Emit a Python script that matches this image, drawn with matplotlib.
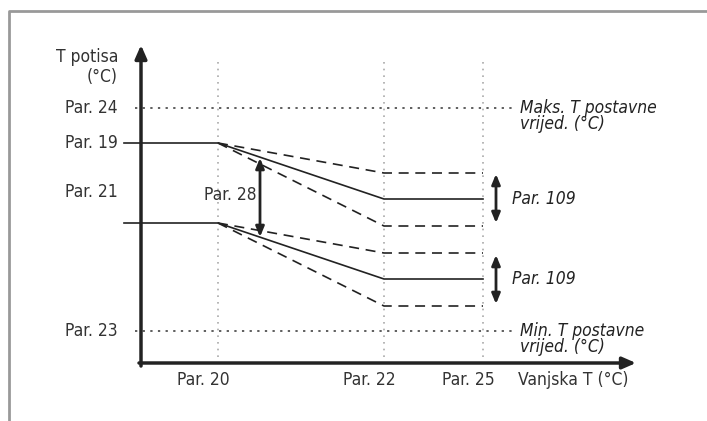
import matplotlib
matplotlib.use("Agg")
import matplotlib.pyplot as plt

plt.rcParams['font.family'] = ['DejaVu Sans']
plt.rcParams['font.stretch'] = 'condensed'

# schematic coordinates (image-like units, y grows downwards)
x_ticks = [218, 384, 483]
x_tick_labels = ['Par. 20', 'Par. 22', 'Par. 25']
y_levels = [108, 143, 192, 331]
y_level_labels = ['Par. 24', 'Par. 19', 'Par. 21', 'Par. 23']

curve_x = [124, 218, 384, 483]
upper_solid = [143, 143, 199, 199]
lower_solid = [223, 223, 279, 279]

band_x = [218, 384, 483]
upper_band_hi = [143, 173, 173]
upper_band_lo = [143, 226, 226]
lower_band_hi = [223, 253, 253]
lower_band_lo = [223, 306, 306]

par28 = (260, 158, 237)
par109 = [(496, 174, 223), (496, 255, 304)]

fig = plt.figure(figsize=(7.07, 4.21), dpi=100)
ax = fig.add_axes([0, 0, 1, 1])
ax.set_xlim(0, 707)
ax.set_ylim(421, 0)
ax.axis('off')

# frame
ax.plot([9, 9, 707], [421, 11, 11], color='#999999', lw=2, solid_capstyle='butt')

# reference grid lines
for x in x_ticks:
    ax.plot([x, x], [62, 363], color='#aaaaaa', lw=1.2, ls=(0, (1, 3)))
for y in (y_levels[0], y_levels[3]):
    ax.plot([135, 515], [y, y], color='#333333', lw=1.1, ls=(0, (1.5, 3.5)))

# curves
ax.plot(curve_x, upper_solid, color='#222222', lw=1.2)
ax.plot(curve_x, lower_solid, color='#222222', lw=1.2)
for ys in (upper_band_hi, upper_band_lo, lower_band_hi, lower_band_lo):
    ax.plot(band_x, ys, color='#222222', lw=1.2, ls=(0, (6, 4)))

# axes with arrows
ax.annotate('', xy=(141, 45), xytext=(141, 366),
            arrowprops=dict(arrowstyle='-|>,head_length=0.8,head_width=0.35',
                            color='#222222', lw=2.5, shrinkA=0, shrinkB=0))
ax.annotate('', xy=(636, 363), xytext=(139, 363),
            arrowprops=dict(arrowstyle='-|>,head_length=0.8,head_width=0.35',
                            color='#222222', lw=2.5, shrinkA=0, shrinkB=0))

# double arrows
arrow = dict(arrowstyle='<|-|>,head_length=0.6,head_width=0.25',
             color='#222222', lw=2, shrinkA=0, shrinkB=0)
x, y0, y1 = par28
ax.annotate('', xy=(x, y0), xytext=(x, y1), arrowprops=arrow)
ax.text(x - 3, (y0 + y1) / 2 - 2, 'Par. 28', ha='right', va='center', fontsize=12.5, color='#333333')
for x, y0, y1 in par109:
    ax.annotate('', xy=(x, y0), xytext=(x, y1), arrowprops=arrow)
    ax.text(x + 16, (y0 + y1) / 2, 'Par. 109', ha='left', va='center', fontsize=12.5,
            style='italic', color='#222222')

# labels
fs = 12.5
ax.text(118, 67, 'T potisa\n(°C)', ha='right', va='center', fontsize=fs,
        linespacing=1.15, color='#333333')
for y, lab in zip(y_levels, y_level_labels):
    ax.text(118, y, lab, ha='right', va='center', fontsize=fs, color='#333333')
for x, lab in zip(x_ticks, x_tick_labels):
    ax.text(x - 15, 380, lab, ha='center', va='center', fontsize=fs, color='#333333')
ax.text(518, 380, 'Vanjska T (°C)', ha='left', va='center', fontsize=fs, color='#333333')
ax.text(520, 116, 'Maks. T postavne\nvrijed. (°C)', ha='left', va='center', fontsize=fs,
        style='italic', linespacing=0.85, color='#222222')
ax.text(520, 339, 'Min. T postavne\nvrijed. (°C)', ha='left', va='center', fontsize=fs,
        style='italic', linespacing=0.85, color='#222222')

fig.savefig('out.png', dpi=100)
